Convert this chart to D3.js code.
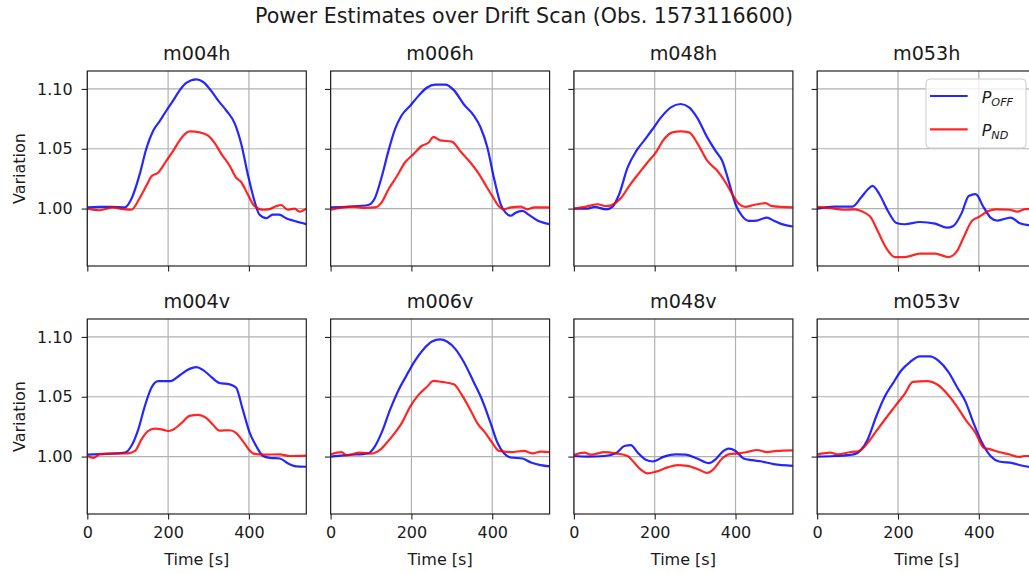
<!DOCTYPE html>
<html>
<head>
<meta charset="utf-8">
<script src="https://cdn.jsdelivr.net/npm/d3@7"></script>
<style>
  html, body { margin: 0; padding: 0; background: #fff; }
  svg { display: block; font-family: "DejaVu Sans", sans-serif; }
</style>
</head>
<body>
<svg id="chart" width="1029" height="573"></svg>
<script>
// ---------------- DATA ----------------
const suptitle = "Power Estimates over Drift Scan (Obs. 1573116600)";
const panelNames = ["m004h", "m006h", "m048h", "m053h", "m004v", "m006v", "m048v", "m053v"];
const xTicks = [0, 200, 400];
const yTicks = [1.00, 1.05, 1.10];
const xLabel = "Time [s]";
const yLabel = "Variation";

// [time (s), variation]
const m004h_off = [[0,1.001],[30,1.0015],[60,1.0015],[93,1.001],[109,1.008],[130,1.029],[146,1.05],[163,1.065],[179,1.073],[196,1.082],[212,1.09],[229,1.099],[245,1.105],[270,1.108],[286,1.106],[303,1.10],[327,1.089],[344,1.082],[365,1.071],[381,1.054],[397,1.029],[414,1.006],[426,0.995],[443,0.992],[459,0.995],[475,0.995],[492,0.992],[509,0.99],[542,0.987]];
const m004h_nd = [[0,1.0],[31,0.9986],[64,1.001],[89,0.9995],[109,0.999],[130,1.009],[146,1.019],[159,1.027],[175,1.030],[196,1.04],[212,1.048],[233,1.059],[253,1.0645],[278,1.0637],[299,1.061],[315,1.055],[332,1.0455],[352,1.036],[368,1.026],[381,1.022],[397,1.012],[414,1.002],[435,0.999],[451,0.9995],[467,1.002],[480,1.003],[496,0.999],[513,1.0],[525,0.9975],[542,1.0]];
const m006h_off = [[0,1.001],[47,1.0017],[93,1.003],[110,1.009],[126,1.026],[143,1.048],[159,1.066],[176,1.078],[197,1.086],[217,1.094],[238,1.101],[259,1.1036],[284,1.1036],[305,1.099],[330,1.087],[354,1.078],[371,1.068],[388,1.051],[404,1.026],[421,1.0036],[433,0.9966],[446,0.994],[458,0.9966],[475,0.998],[491,0.9947],[512,0.990],[542,0.987]];
const m006h_nd = [[0,0.999],[31,1.001],[56,1.0017],[80,1.0006],[110,1.001],[126,1.005],[143,1.016],[164,1.027],[184,1.0385],[205,1.0455],[226,1.0525],[242,1.055],[255,1.060],[271,1.057],[300,1.056],[321,1.048],[346,1.0385],[367,1.029],[383,1.020],[400,1.0106],[417,1.0017],[429,0.9994],[446,1.001],[471,1.0017],[487,0.9994],[504,1.001],[542,1.001]];
const m048h_off = [[0,1.0],[34,1.0],[51,1.0014],[80,0.9994],[96,1.0017],[112,1.012],[133,1.0344],[154,1.048],[174,1.057],[195,1.0665],[215,1.076],[240,1.0846],[264,1.0874],[285,1.0846],[305,1.076],[330,1.0595],[351,1.048],[367,1.040],[383,1.023],[400,1.0036],[416,0.9939],[433,0.9897],[453,0.990],[478,0.9925],[494,0.990],[511,0.9874],[542,0.985]];
const m048h_nd = [[0,1.0],[30,1.0017],[59,1.0036],[80,1.002],[100,1.004],[117,1.009],[137,1.019],[162,1.030],[182,1.0385],[203,1.047],[223,1.058],[244,1.0637],[264,1.0645],[285,1.0637],[305,1.055],[330,1.040],[355,1.0316],[375,1.022],[392,1.012],[408,1.004],[424,1.0014],[445,1.003],[474,1.0045],[490,1.002],[542,1.001]];
const m053h_off = [[0,1.0],[42,1.0017],[87,1.0017],[108,1.009],[125,1.016],[137,1.019],[154,1.012],[175,0.998],[196,0.988],[217,0.9869],[254,0.9888],[292,0.9874],[321,0.984],[337,0.9855],[358,0.9966],[375,1.0106],[392,1.012],[412,1.001],[429,0.9925],[446,0.990],[479,0.9925],[500,0.988],[525,0.986],[542,0.9855]];
const m053h_nd = [[0,1.0014],[42,1.0],[67,0.999],[92,0.9994],[117,0.9966],[133,0.9925],[150,0.981],[171,0.967],[192,0.9595],[217,0.9595],[254,0.9623],[292,0.9623],[325,0.9595],[346,0.9645],[362,0.9757],[383,0.9897],[400,0.993],[421,0.9975],[442,0.9994],[475,0.999],[496,0.9975],[512,0.9994],[542,1.0]];
const m004v_off = [[0,1.0016],[31,1.002],[93,1.0033],[109,1.0088],[126,1.0225],[142,1.0418],[159,1.0577],[175,1.063],[204,1.063],[229,1.068],[253,1.0733],[270,1.0747],[286,1.0725],[307,1.0665],[327,1.0615],[352,1.0604],[368,1.0577],[385,1.039],[402,1.0198],[418,1.0088],[435,1.0005],[451,0.9989],[476,0.9984],[500,0.9937],[517,0.9918],[542,0.9915]];
const m004v_nd = [[0,1.0005],[15,0.9989],[31,1.002],[72,1.0025],[101,1.0027],[118,1.0047],[134,1.0143],[150,1.0212],[167,1.0234],[187,1.0225],[200,1.0214],[212,1.0225],[233,1.028],[253,1.034],[274,1.0349],[295,1.0321],[311,1.0266],[327,1.0217],[352,1.022],[368,1.0198],[385,1.0129],[410,1.0027],[435,1.0016],[476,1.0019],[500,1.0005],[542,1.0008]];
const m006v_off = [[0,1.0],[47,1.0014],[93,1.0027],[110,1.0088],[126,1.0198],[147,1.039],[168,1.0555],[188,1.0679],[209,1.0802],[230,1.0898],[251,1.0962],[271,1.098],[288,1.0962],[309,1.0898],[330,1.0788],[354,1.0624],[375,1.0473],[396,1.028],[413,1.0115],[429,1.0027],[446,0.9992],[475,0.9984],[496,0.995],[520,0.9929],[542,0.9918]];
const m006v_nd = [[0,1.0019],[27,1.0038],[39,1.0011],[72,1.0033],[101,1.0025],[122,1.0055],[139,1.0115],[159,1.0198],[176,1.028],[197,1.0418],[217,1.0514],[238,1.0582],[255,1.0632],[276,1.0624],[305,1.0604],[325,1.0514],[346,1.039],[363,1.028],[383,1.0198],[400,1.0115],[417,1.0047],[446,1.0038],[479,1.0047],[500,1.0027],[520,1.0041],[542,1.0038]];
const m048v_off = [[0,1.0005],[34,1.0],[76,1.0005],[104,1.0027],[125,1.0088],[141,1.0096],[158,1.0033],[178,0.9973],[195,0.9959],[223,1.0],[252,1.0019],[277,1.0016],[305,0.9984],[334,0.9945],[351,0.9978],[367,1.0038],[383,1.0066],[400,1.0047],[420,0.9984],[441,0.997],[465,0.9959],[494,0.9937],[542,0.9923]];
const m048v_nd = [[0,1.0014],[26,1.0033],[43,1.0016],[76,1.0038],[104,1.0027],[133,1.0005],[149,0.995],[166,0.989],[182,0.986],[203,0.9874],[232,0.991],[256,0.9929],[281,0.9923],[310,0.989],[330,0.9863],[346,0.9896],[367,0.9984],[383,1.0019],[408,1.0027],[429,1.0038],[453,1.0055],[478,1.0038],[502,1.0047],[542,1.0052]];
const m053v_off = [[0,1.0],[42,1.0005],[87,1.0016],[108,1.0055],[125,1.0143],[146,1.0335],[167,1.05],[187,1.061],[208,1.072],[229,1.0788],[254,1.0838],[279,1.0838],[300,1.0802],[325,1.0706],[346,1.0582],[367,1.0459],[387,1.028],[408,1.0115],[429,1.0005],[450,0.9959],[483,0.9945],[508,0.9923],[542,0.9905]];
const m053v_nd = [[0,1.0019],[33,1.0033],[50,1.0019],[83,1.0038],[104,1.0047],[125,1.0115],[146,1.0212],[167,1.0308],[192,1.0418],[217,1.0527],[237,1.0624],[271,1.063],[300,1.0596],[321,1.0527],[346,1.0418],[367,1.0308],[392,1.0198],[412,1.0074],[429,1.006],[450,1.0038],[475,1.0019],[500,0.9997],[512,1.0005],[542,1.0005]];

const offSeries = [m004h_off, m006h_off, m048h_off, m053h_off, m004v_off, m006v_off, m048v_off, m053v_off];
const ndSeries  = [m004h_nd,  m006h_nd,  m048h_nd,  m053h_nd,  m004v_nd,  m006v_nd,  m048v_nd,  m053v_nd];

// ---------------- LAYOUT ----------------
const colLeft = [87.3, 330.6, 573.9, 817.2];
const rowTop = [71, 319];
const pw = 219, ph = 195;
const blue = "#0000ff", red = "#ff0000";
const textColor = "#1a1a1a";

const svg = d3.select("#chart");

svg.append("text")
  .attr("x", 524).attr("y", 23)
  .attr("text-anchor", "middle")
  .attr("font-size", 20.6)
  .attr("fill", textColor)
  .text(suptitle);

const x = d3.scaleLinear().domain([0, 542]).range([0, pw]);
const y = d3.scaleLinear().domain([0.952, 1.115]).range([ph, 0]);
const line = d3.line().x(d => x(d[0])).y(d => y(d[1])).curve(d3.curveMonotoneX);

const defs = svg.append("defs");
defs.append("clipPath").attr("id", "clip")
  .append("rect").attr("x", 0).attr("y", 0).attr("width", pw).attr("height", ph);

panelNames.forEach((name, i) => {
  const r = Math.floor(i / 4), c = i % 4;
  const g = svg.append("g").attr("transform", `translate(${colLeft[c]},${rowTop[r]})`);

  // grid
  g.append("g").selectAll("line").data(xTicks).join("line")
    .attr("x1", d => x(d)).attr("x2", d => x(d)).attr("y1", 0).attr("y2", ph)
    .attr("stroke", "#b0b0b0").attr("stroke-width", 1.2);
  g.append("g").selectAll("line").data(yTicks).join("line")
    .attr("y1", d => y(d)).attr("y2", d => y(d)).attr("x1", 0).attr("x2", pw)
    .attr("stroke", "#b0b0b0").attr("stroke-width", 1.2);

  // lines
  const lg = g.append("g").attr("clip-path", "url(#clip)");
  lg.append("path").datum(offSeries[i]).attr("d", line)
    .attr("fill", "none").attr("stroke", blue).attr("stroke-opacity", 0.85)
    .attr("stroke-width", 2.2).attr("stroke-linejoin", "round");
  lg.append("path").datum(ndSeries[i]).attr("d", line)
    .attr("fill", "none").attr("stroke", red).attr("stroke-opacity", 0.85)
    .attr("stroke-width", 2.2).attr("stroke-linejoin", "round");

  // axes
  const xAxis = d3.axisBottom(x).tickValues(xTicks).tickSize(5.6).tickPadding(7)
    .tickFormat(r === 1 ? d3.format("d") : () => "");
  const yAxis = d3.axisLeft(y).tickValues(yTicks).tickSize(5.6).tickPadding(9)
    .tickFormat(c === 0 ? d3.format(".2f") : () => "");
  const xa = g.append("g").attr("transform", `translate(0,${ph})`).call(xAxis);
  const ya = g.append("g").call(yAxis);
  [xa, ya].forEach(a => {
    a.select(".domain").remove();
    a.selectAll(".tick line").attr("stroke", "#222").attr("stroke-width", 1.1);
    a.selectAll(".tick text").attr("fill", textColor).attr("font-size", 16)
      .attr("font-family", "DejaVu Sans");
  });

  // spines
  g.append("rect").attr("x", 0).attr("y", 0).attr("width", pw).attr("height", ph)
    .attr("fill", "none").attr("stroke", "#222").attr("stroke-width", 1.2);

  // subplot title
  g.append("text").attr("x", pw / 2).attr("y", -11)
    .attr("text-anchor", "middle").attr("font-size", 19.2).attr("fill", textColor)
    .text(name);

  if (r === 1) {
    g.append("text").attr("x", pw / 2).attr("y", ph + 51)
      .attr("text-anchor", "middle").attr("font-size", 16).attr("fill", textColor)
      .text(xLabel);
  }
  if (c === 0) {
    g.append("text")
      .attr("transform", `translate(${25 - colLeft[0]},${ph / 2}) rotate(-90)`)
      .attr("text-anchor", "middle").attr("font-size", 16).attr("fill", textColor)
      .text(yLabel);
  }

  // legend in m053h
  if (i === 3) {
    const lx = 926 - colLeft[3], ly = 79 - rowTop[0];
    const leg = g.append("g").attr("transform", `translate(${lx},${ly})`);
    leg.append("rect").attr("width", 100).attr("height", 69).attr("rx", 4)
      .attr("fill", "#fff").attr("fill-opacity", 0.8)
      .attr("stroke", "#cccccc").attr("stroke-width", 1);
    const items = [{c: blue, sub: "OFF"}, {c: red, sub: "ND"}];
    items.forEach((it, k) => {
      const yy = 17 + k * 33.3;
      leg.append("line").attr("x1", 4).attr("x2", 41.7).attr("y1", yy).attr("y2", yy)
        .attr("stroke", it.c).attr("stroke-opacity", 0.85).attr("stroke-width", 2.2);
      const t = leg.append("text").attr("x", 55.7).attr("y", yy + 7)
        .attr("font-size", 16).attr("font-style", "italic").attr("fill", textColor);
      t.append("tspan").text("P");
      t.append("tspan").attr("font-size", 11.2).attr("dy", 2.5).text(it.sub);
    });
  }
});
</script>
</body>
</html>
